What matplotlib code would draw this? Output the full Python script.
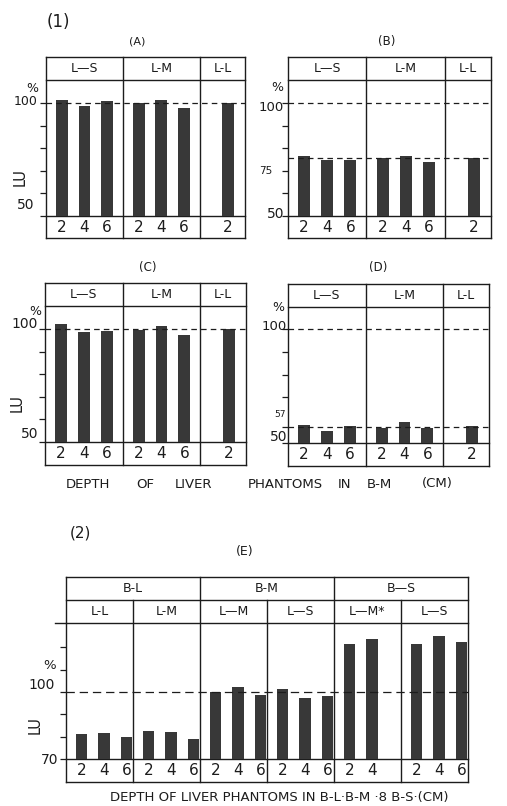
import matplotlib
matplotlib.use("Agg")
import matplotlib.pyplot as plt
from matplotlib.lines import Line2D

plt.rcParams['font.family'] = ['DejaVu Sans']
plt.rcParams['lines.scale_dashes'] = False

W, H = 507, 806
INK = '#1c1c1c'
BAR = '#383838'

# ---------------- data ----------------
# (1) background B-M, liver phantoms L-S / L-M / L-L at several depths
liver_1 = ["L—S", "L-M", "L-L"]
depth_1 = [["2", "4", "6"], ["2", "4", "6"], ["2"]]
lu_A = [[101.5, 98.8, 100.9], [100.0, 101.5, 97.9], [100.0]]
lu_B = [[76.6, 74.6, 75.0], [75.7, 76.6, 74.0], [75.7]]
lu_C = [[102.2, 98.5, 99.3], [99.7, 101.2, 97.5], [100.0]]
lu_D = [[58.1, 55.2, 57.6], [56.6, 59.4, 56.6], [57.6]]
ref_B = 75.7
ref_D = 57.0

# (2) backgrounds B-L / B-M / B-S
background_E = ["B-L", "B-M", "B—S"]
liver_E = ["L-L", "L-M", "L—M", "L—S", "L—M*", "L—S"]
depth_E = [["2", "4", "6"], ["2", "4", "6"], ["2", "4", "6"],
           ["2", "4", "6"], ["2", "4"], ["2", "4", "6"]]
lu_E = [[81.3, 81.7, 79.7], [82.6, 82.3, 78.9], [99.9, 102.1, 98.5],
        [101.4, 97.5, 98.1], [121.3, 123.9], [121.5, 125.0, 122.3]]

fig = plt.figure(figsize=(W / 100, H / 100), dpi=100)
fig.patch.set_facecolor('white')


def add_px_axes(left, top, right, bottom):
    return fig.add_axes([left / W, 1 - bottom / H, (right - left) / W, (bottom - top) / H])


def ftext(x, y, s, **kw):
    kw.setdefault('ha', 'center')
    kw.setdefault('va', 'center')
    kw.setdefault('color', INK)
    fig.text(x / W, 1 - y / H, s, **kw)


def panel(box, ylim, edges, rows, dividers, groups_x, values, depths, ticks,
          lower_px=22, bar_w=0.52, tick_fs=11, head_fs=9):
    left, top, right, base = box
    ax = add_px_axes(left, top, right, base)
    xmax = edges[-1]
    ax.set_xlim(0, xmax)
    ax.set_ylim(*ylim)
    for sp in ax.spines.values():
        sp.set_visible(False)
    ax.set_xticks([])
    ax.set_yticks(ticks)
    ax.tick_params(axis='y', length=4.5, width=0.9, color=INK, labelleft=False)
    ph = base - top
    tr = ax.get_xaxis_transform()

    def seg(xs, ys):
        ax.add_line(Line2D(xs, ys, transform=tr, clip_on=False, color=INK, lw=1.0))

    ybot = -lower_px / ph
    levels = [1.0]
    for h, _ in rows:
        levels.append(levels[-1] + h / ph)
    # outer frame and row rules
    seg([0, 0], [ybot, levels[-1]])
    seg([xmax, xmax], [ybot, levels[-1]])
    for yy in [ybot, 0.0] + levels:
        seg([0, xmax], [yy, yy])
    # header texts
    for i, (h, labels) in enumerate(rows):
        ymid = (levels[i] + levels[i + 1]) / 2
        for x0, x1, lab in labels:
            ax.text((x0 + x1) / 2, ymid, lab, transform=tr, ha='center', va='center',
                    fontsize=head_fs, color=INK)
    for x, lvl in dividers:
        seg([x, x], [ybot, levels[lvl]])
    # bars and depth labels
    for gx, vals, deps in zip(groups_x, values, depths):
        for x, v, d in zip(gx, vals, deps):
            ax.bar(x, v - ylim[0], bottom=ylim[0], width=bar_w, color=BAR,
                   edgecolor='none', zorder=2)
            ax.text(x, ybot / 2, d, transform=tr, ha='center', va='center',
                    fontsize=tick_fs, color=INK)
    return ax


def ylab(ax, yval, s, dx, dy, ha='right', fs=9.5, rot=0):
    ax.annotate(s, xy=(0, yval), xycoords=ax.get_yaxis_transform(),
                xytext=(dx, dy), textcoords='offset pixels', ha=ha, va='center',
                fontsize=fs, color=INK, rotation=rot, annotation_clip=False)


def refline(ax, y, on=4.0, off=3.0):
    ax.axhline(y, color=INK, lw=0.9, ls=(0, (on, off)), zorder=3)


# layout shared by panels A-D
edges_1 = [0, 3.4, 6.8, 8.8]
xs_1 = [[0.7, 1.7, 2.7], [4.1, 5.1, 6.1], [8.05]]
rows_1 = [(23, [(edges_1[i], edges_1[i + 1], liver_1[i]) for i in range(3)])]
div_1 = [(3.4, 1), (6.8, 1)]

axA = panel((46, 80, 245, 216), (50, 110.2), edges_1, rows_1, div_1, xs_1, lu_A, depth_1,
            [50, 60, 70, 80, 90, 100])
refline(axA, 100)
ylab(axA, 100, "%", -14, 15, ha='center', fs=9)
ylab(axA, 100, "100", -8, 2, fs=9)
ylab(axA, 50, "50", -12, 11, fs=10)
ylab(axA, 50, "LU", -26, 39, ha='center', fs=10.5, rot=90)

axB = panel((288, 80, 491, 216), (50, 110.2), edges_1, rows_1, div_1, xs_1, lu_B, depth_1,
            [50, 60, 70, 80, 90, 100])
refline(axB, 100)
refline(axB, ref_B)
ylab(axB, 100, "%", -11, 16, ha='center', fs=9)
ylab(axB, 100, "100", -4, -4, fs=9.5)
ylab(axB, ref_B, "75", -16, -13, fs=7.5)
ylab(axB, 50, "50", -4, 2, fs=10)

axC = panel((45, 306, 246, 442), (50, 110.2), edges_1, rows_1, div_1, xs_1, lu_C, depth_1,
            [50, 60, 70, 80, 90, 100], lower_px=23)
refline(axC, 100)
ylab(axC, 100, "%", -10, 18, ha='center', fs=9)
ylab(axC, 100, "100", -7, 5, fs=10)
ylab(axC, 50, "LU", -28, 39, ha='center', fs=10.5, rot=90)
ylab(axC, 50, "50", -7, 8, fs=10)

axD = panel((288, 307, 489, 443), (50, 109.6), edges_1, rows_1, div_1, xs_1, lu_D, depth_1,
            [50, 57, 70, 80, 90, 100], lower_px=23)
refline(axD, 100)
refline(axD, ref_D)
ylab(axD, 100, "%", -10, 21, ha='center', fs=9)
ylab(axD, 100, "100", -1, 2, fs=9.5)
ylab(axD, ref_D, "57", -2, 13, fs=6.5)
ylab(axD, 50, "50", -1, 6, fs=10)

# panel E
edges_E = [0, 3, 6, 9, 12, 15, 18]
xs_E = [[e + 0.7, e + 1.7, e + 2.7][:len(d)] for e, d in zip(edges_E[:-1], depth_E)]
rows_E = [(23, [(edges_E[i], edges_E[i + 1], liver_E[i]) for i in range(6)]),
          (23, [(edges_E[2 * i], edges_E[2 * i + 2], background_E[i]) for i in range(3)])]
div_E = [(3, 1), (9, 1), (15, 1), (6, 2), (12, 2)]
axE = panel((66, 623, 468, 759), (70, 130.9), edges_E, rows_E, div_E, xs_E, lu_E, depth_E,
            [70, 80, 90, 100, 110, 120], lower_px=23, bar_w=0.5, head_fs=9)
refline(axE, 100, on=6.0, off=3.5)
# rule under the liver-phantom row runs a little past the frame on the left
axE.add_line(Line2D([-0.5, 0], [1, 1], transform=axE.get_xaxis_transform(),
                    clip_on=False, color=INK, lw=1.0))
ylab(axE, 110, "%", -10, 4, fs=9.5)
ylab(axE, 100, "100", -11, 7, fs=10)
ylab(axE, 70, "LU", -31, 34, ha='center', fs=10.5, rot=90)
ylab(axE, 70, "70", -8, -1, fs=10)

# titles and captions
ftext(58, 22, "(1)", fontsize=12)
ftext(137, 42, "(A)", fontsize=8)
ftext(387, 42, "(B)", fontsize=8.5)
ftext(148, 267, "(C)", fontsize=8.5)
ftext(378, 267, "(D)", fontsize=8.5)
for word, x0 in [("DEPTH", 66), ("OF", 136), ("LIVER", 175), ("PHANTOMS", 248),
                 ("IN", 338), ("B-M", 367), ("(CM)", 422)]:
    ftext(x0, 484, word, ha='left', fontsize=9.5)
ftext(80, 533, "(2)", fontsize=11)
ftext(245, 552, "(E)", fontsize=9)
ftext(279, 797, "DEPTH OF LIVER PHANTOMS IN B-L·B-M ·8 B-S·(CM)", fontsize=9.5)

fig.savefig("out.png", dpi=100, facecolor='white')
